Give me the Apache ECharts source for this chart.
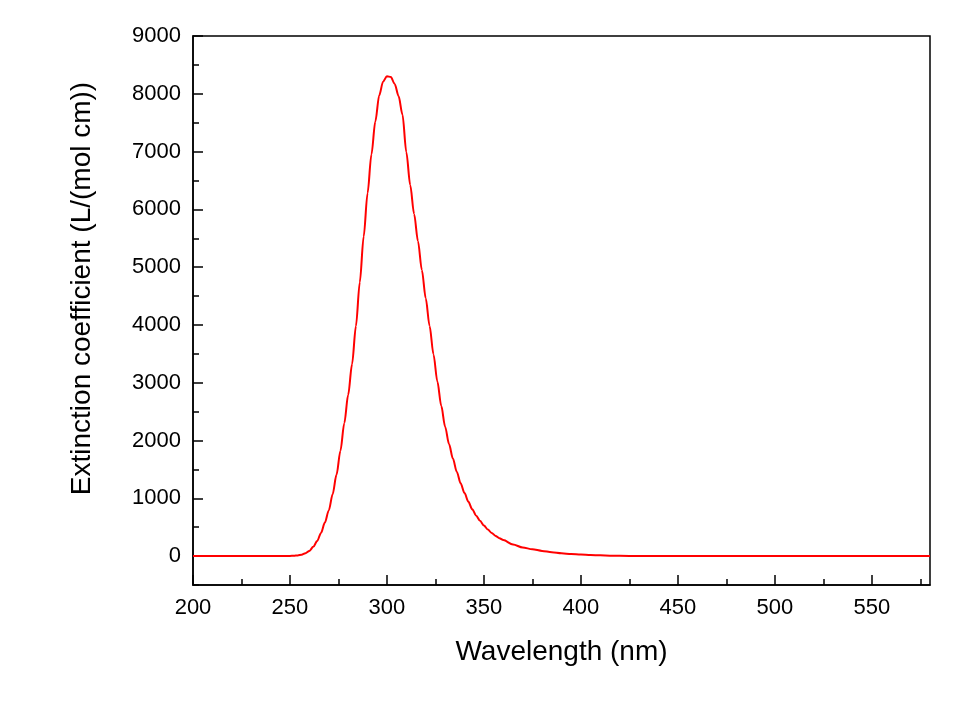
<!DOCTYPE html>
<html>
<head>
<meta charset="utf-8">
<script src="https://cdn.jsdelivr.net/npm/echarts@6/dist/echarts.min.js"></script>
<style>
html,body{margin:0;padding:0;background:#fff;}
#chart{width:959px;height:712px;}
</style>
</head>
<body>
<div id="chart"></div>
<script>
// Data
const wavelength = [200,210,220,230,240,246,250,252,254,256,258,260,262,264,266,268,270,272,274,276,278,280,282,284,286,288,290,292,294,296,298,300,302,304,306,308,310,312,314,316,318,320,322,324,326,328,330,332,334,336,338,340,342,344,346,348,350,352,354,356,358,360,365,370,375,380,385,390,395,400,405,410,415,420,430,440,460,480,500,520,540,560,580];
const extinction = [0,0,0,0,0,1,3,6,12,25,50,90,160,260,400,580,790,1070,1410,1820,2300,2790,3320,3980,4740,5530,6280,6950,7520,7970,8210,8305,8290,8170,7960,7640,6990,6420,5920,5450,4950,4460,3980,3490,3020,2600,2240,1940,1690,1460,1260,1090,940,810,700,610,530,460,400,350,310,277,200,150,118,90,66,49,36,27,20,13,8,5,1,0,0,0,0,0,0,0,0];
const xMajorTicks = [200,250,300,350,400,450,500,550];
const yMajorTicks = [0,1000,2000,3000,4000,5000,6000,7000,8000,9000];

const font = 'Liberation Sans, Arial, Helvetica, sans-serif';
const points = wavelength.map((w, i) => [w, extinction[i]]);

const chart = echarts.init(document.getElementById('chart'));
chart.setOption({
  animation: false,
  backgroundColor: '#fff',
  grid: {left: 193, right: 29, top: 36, bottom: 127, show: true, borderColor: '#000', borderWidth: 1.5, backgroundColor: 'transparent'},
  xAxis: [
    {
      type: 'value', min: 200, max: 580, interval: 25, position: 'bottom',
      name: 'Wavelength (nm)', nameLocation: 'middle', nameGap: 53,
      nameTextStyle: {fontFamily: font, fontSize: 28, color: '#000'},
      axisLine: {show: true, onZero: false, lineStyle: {color: '#000', width: 1.5}},
      axisTick: {show: true, inside: true, length: 6, lineStyle: {color: '#000', width: 1.5}},
      axisLabel: {
        fontFamily: font, fontSize: 22, color: '#000', margin: 12, showMaxLabel: false,
        formatter: v => (xMajorTicks.indexOf(v) >= 0 ? String(v) : '')
      },
      splitLine: {show: false}
    },
    {
      type: 'value', min: 200, max: 580, position: 'bottom',
      axisLine: {show: false, onZero: false},
      axisTick: {show: true, inside: true, length: 10, customValues: xMajorTicks, lineStyle: {color: '#000', width: 1.5}},
      axisLabel: {show: false},
      splitLine: {show: false}
    }
  ],
  yAxis: [
    {
      type: 'value', min: -500, max: 9000, interval: 500, position: 'left',
      name: 'Extinction coefficient (L/(mol cm))', nameLocation: 'middle', nameGap: 97,
      nameTextStyle: {fontFamily: font, fontSize: 28, color: '#000', padding: [0, 0, 0, 44]},
      axisLine: {show: true, onZero: false, lineStyle: {color: '#000', width: 1.5}},
      axisTick: {show: true, inside: true, length: 6, lineStyle: {color: '#000', width: 1.5}},
      axisLabel: {
        fontFamily: font, fontSize: 22, color: '#000', margin: 12,
        formatter: v => (yMajorTicks.indexOf(v) >= 0 ? String(v) : '')
      },
      splitLine: {show: false}
    },
    {
      type: 'value', min: -500, max: 9000, position: 'left',
      axisLine: {show: false, onZero: false},
      axisTick: {show: true, inside: true, length: 10, customValues: yMajorTicks, lineStyle: {color: '#000', width: 1.5}},
      axisLabel: {show: false},
      splitLine: {show: false}
    }
  ],
  series: [{
    type: 'line',
    data: points,
    xAxisIndex: 0, yAxisIndex: 0,
    showSymbol: false,
    smooth: 0.3,
    smoothMonotone: 'x',
    lineStyle: {color: '#ff0000', width: 2},
    itemStyle: {color: '#ff0000'}
  }]
});
</script>
</body>
</html>
